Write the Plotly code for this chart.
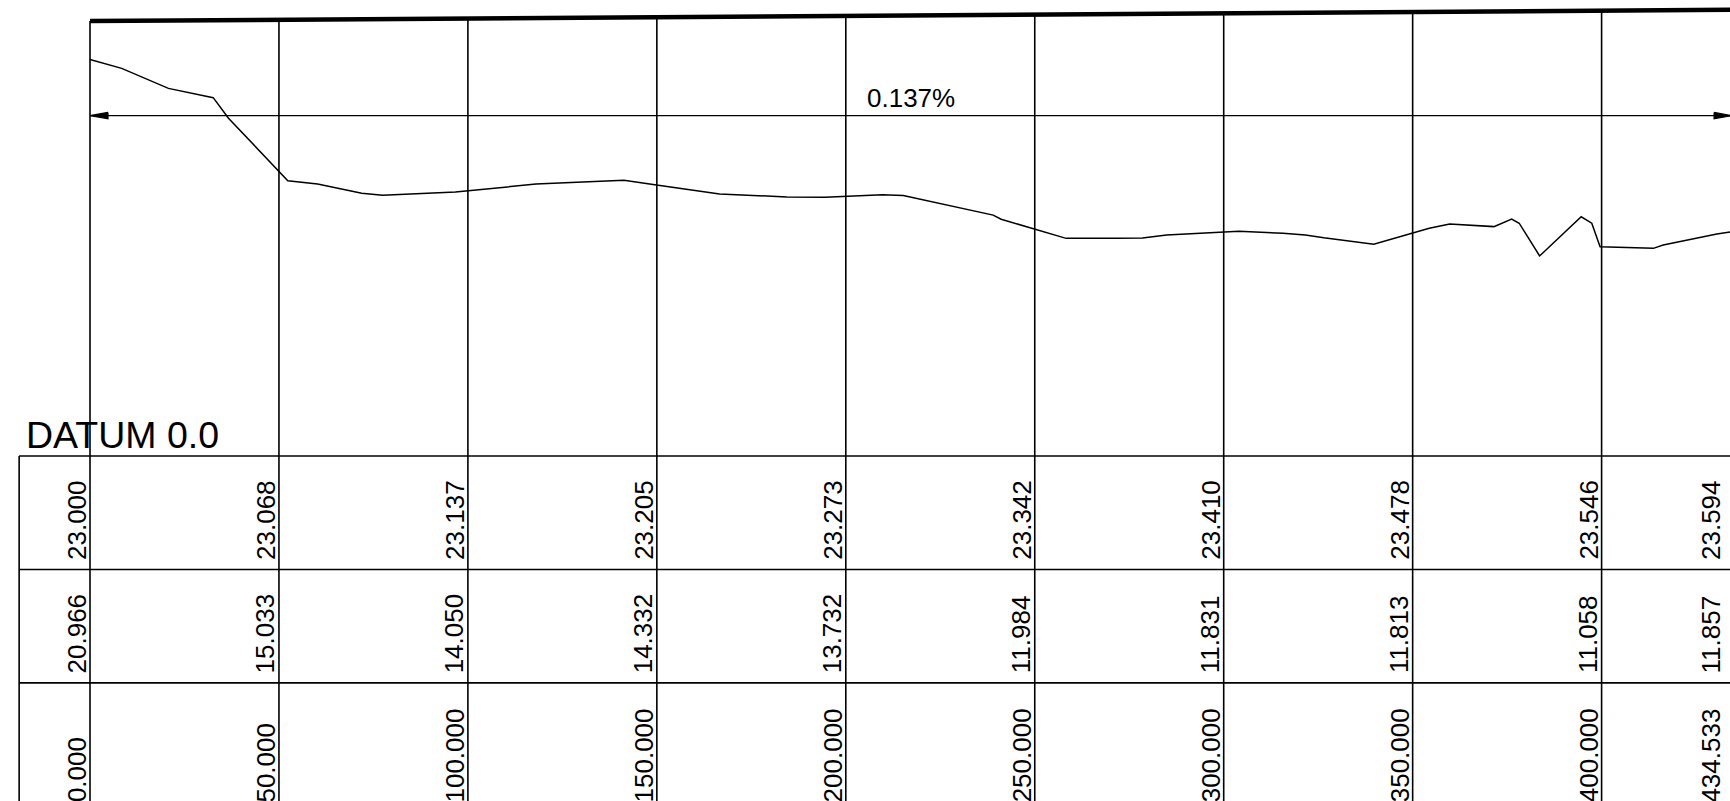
import plotly.graph_objects as go

# ---- data ----
stations = [0, 50, 100, 150, 200, 250, 300, 350, 400, 434.533]
design_elev = [23.000, 23.068, 23.137, 23.205, 23.273, 23.342, 23.410, 23.478, 23.546, 23.594]
ground_elev = [20.966, 15.033, 14.050, 14.332, 13.732, 11.984, 11.831, 11.813, 11.058, 11.857]
grade_text = "0.137%"
datum = 0.0

# ground profile vertices (station, elevation)
ground_x = [0, 8.39, 20.75, 32.60, 36.65, 52.34, 60.23, 71.90, 77.45, 96.69,
            118.0, 141.3, 149.9, 166.6, 184.4, 194.5, 200.6, 209.7, 215.2, 239.0,
            241.1, 250.2, 258.3, 271.6, 278.5, 284.9, 304.0, 315.7, 321.6, 326.5,
            339.7, 354.4, 359.8, 371.5, 376.2, 378.2, 383.6, 394.6, 397.4, 399.6,
            413.7, 416.3, 430.5, 434.533]
ground_y = [20.97, 20.50, 19.44, 18.95, 17.86, 14.56, 14.38, 13.89, 13.79, 13.96,
            14.38, 14.58, 14.33, 13.86, 13.70, 13.68, 13.73, 13.82, 13.77, 12.74,
            12.52, 11.99, 11.51, 11.51, 11.53, 11.69, 11.88, 11.78, 11.69, 11.54,
            11.20, 12.04, 12.27, 12.13, 12.53, 12.31, 10.58, 12.65, 12.31, 11.07,
            10.98, 11.16, 11.74, 11.86]

# ---- drawing scale (pixels per unit) ----
W, H = 1730, 801
PX_S = 3.779      # horizontal: px per station unit
PX_E = 18.91      # vertical: px per elevation unit
X0_PX = 90        # pixel of station 0
DATUM_PX = 456    # pixel of datum line

x_range = [-X0_PX / PX_S, (W - X0_PX) / PX_S]
y_range = [-(H - DATUM_PX) / PX_E, DATUM_PX / PX_E]

row_h = 6.0               # table row height in elevation units
table_left = -18.75
dim_elev = 18.0
FONT = "Liberation Sans, Arial, sans-serif"

fig = go.Figure()

# design grade line
fig.add_trace(go.Scatter(x=stations, y=design_elev, mode="lines",
                         line=dict(color="black", width=4.5), hoverinfo="skip"))

# ground line
fig.add_trace(go.Scatter(x=ground_x, y=ground_y, mode="lines",
                         line=dict(color="black", width=1.5), hoverinfo="skip"))

# dimension line with arrowheads
s_end = stations[-1]
ah_len = 18 / PX_S
ah_w = 3.2 / PX_E
fig.add_trace(go.Scatter(x=[stations[0], s_end], y=[dim_elev, dim_elev], mode="lines",
                         line=dict(color="black", width=1.4), hoverinfo="skip"))
for tip, sign in [(stations[0], 1), (s_end, -1)]:
    fig.add_trace(go.Scatter(
        x=[tip + sign * ah_len, tip, tip + sign * ah_len, tip + sign * ah_len],
        y=[dim_elev + ah_w, dim_elev, dim_elev - ah_w, dim_elev + ah_w],
        mode="lines", fill="toself", fillcolor="black",
        line=dict(color="black", width=1.2), hoverinfo="skip"))

shapes = []
bottom = -30
# station lines, from grade line down through the table
for s, d in zip(stations, design_elev):
    shapes.append(dict(type="line", x0=s, x1=s, y0=d, y1=bottom,
                       line=dict(color="black", width=1.6)))
# table border and row lines
shapes.append(dict(type="line", x0=table_left, x1=table_left, y0=datum, y1=bottom,
                   line=dict(color="black", width=1.6)))
for k in range(3):
    yy = datum - k * row_h
    shapes.append(dict(type="line", x0=table_left, x1=500, y0=yy, y1=yy,
                       line=dict(color="black", width=1.6)))


def clamp_shift(v, lo, hi, px_per_unit):
    # plotly hides annotations anchored outside the axis range,
    # so keep the anchor inside and push the text out with a pixel shift
    inside = min(max(v, lo + 0.01), hi - 0.01)
    return inside, (v - inside) * px_per_unit


annotations = []
rows = [
    ([f"{v:.3f}" for v in design_elev], datum - row_h + 0.5),
    ([f"{v:.3f}" for v in ground_elev], datum - 2 * row_h + 0.5),
    ([f"{v:.3f}" for v in stations], datum - 3 * row_h - 0.33),
]
for labels, ybase in rows:
    for s, lab in zip(stations, labels):
        ax, dx = clamp_shift(s, *x_range, PX_S)
        ay, dy = clamp_shift(ybase, *y_range, PX_E)
        # keep the last column's labels inside the right edge of the sheet
        xs = min(2 + dx, (W - 4) - (X0_PX + ax * PX_S))
        annotations.append(dict(
            x=ax, y=ay, xref="x", yref="y", text=lab, showarrow=False,
            textangle=-90, xanchor="right", yanchor="bottom",
            xshift=xs, yshift=dy,
            borderpad=0, borderwidth=0,
            font=dict(family=FONT, size=26, color="black")))

annotations.append(dict(
    x=(stations[0] + s_end) / 2, y=dim_elev + 0.15, xref="x", yref="y",
    text=grade_text, showarrow=False, xanchor="center", yanchor="bottom",
    borderpad=0, borderwidth=0, font=dict(family=FONT, size=26, color="black")))

annotations.append(dict(
    x=table_left + 1.8, y=datum, xref="x", yref="y", text=f"DATUM {datum:.1f}",
    showarrow=False, xanchor="left", yanchor="bottom",
    borderpad=0, borderwidth=0, font=dict(family=FONT, size=37.5, color="black")))

fig.update_layout(
    width=W, height=H,
    margin=dict(l=0, r=0, t=0, b=0),
    paper_bgcolor="white", plot_bgcolor="white",
    showlegend=False,
    xaxis=dict(range=x_range, visible=False, fixedrange=True),
    yaxis=dict(range=y_range, visible=False, fixedrange=True),
    shapes=shapes,
    annotations=annotations,
)

fig.write_html(
    "out.html",
    config={"displayModeBar": False},
    post_script="document.body.style.margin='0';document.body.style.overflow='hidden';",
)
